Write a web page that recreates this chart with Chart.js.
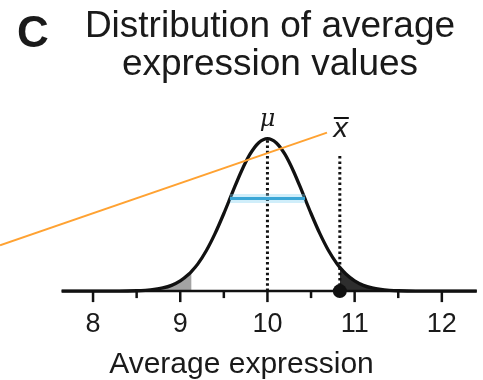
<!DOCTYPE html>
<html>
<head>
<meta charset="utf-8">
<script src="https://cdn.jsdelivr.net/npm/chart.js@4.4.1/dist/chart.umd.min.js"></script>
<style>
  body { margin: 0; background: #fff; }
  #wrap { width: 483px; height: 380px; }
</style>
</head>
<body>
<div id="wrap"><canvas id="dist-chart" width="483" height="380"></canvas></div>
<script>
// density curve of the sample mean, read at these points
const curveX = [7.64, 8.0, 8.3, 8.5, 8.6, 8.7, 8.8, 8.9, 9.0, 9.1, 9.13, 9.2, 9.3, 9.4, 9.5, 9.6, 9.7, 9.8, 9.9, 10.0,
                10.1, 10.2, 10.3, 10.4, 10.5, 10.6, 10.7, 10.8, 10.83, 10.9, 11.0, 11.1, 11.2, 11.3, 11.4, 11.5, 11.7, 12.0, 12.4];
const curveY = [0, 0, 0.000, 0.002, 0.005, 0.010, 0.019, 0.035, 0.062, 0.104, 0.120, 0.164, 0.247, 0.351, 0.472, 0.602, 0.728, 0.833, 0.903, 0.928,
                0.903, 0.833, 0.728, 0.602, 0.472, 0.351, 0.247, 0.164, 0.144, 0.104, 0.062, 0.035, 0.019, 0.010, 0.005, 0.002, 0.000, 0, 0];

const mu = 10;
const xbar = 10.83;
const lowerCut = 9.13;
const xbarLineTop = 0.83;
const spreadX = [9.57, 10.43];
const spreadY = 0.563;
const orangeX = [6.933, 10.683];
const orangeY = [0.279, 0.964];
const axisX = [7.64, 12.4];

const majorTicks = [8, 9, 10, 11, 12];
const minorTicks = [8.5, 9.5, 10.5, 11.5];

const xMin = 6.933, xMax = 12.472;
const yMin = 0, yMax = 1.771;

const pts = (xs, ys) => xs.map((x, i) => ({ x: x, y: ys[i] }));
const curve = pts(curveX, curveY);
const leftTail = curve.filter(p => p.x <= lowerCut);
const rightTail = curve.filter(p => p.x >= xbar);

const FONT = '"Liberation Sans", Arial, sans-serif';

// title, mu / x-bar labels and axis ticks
const decorations = {
    id: 'decorations',
    afterDatasetsDraw(chart) {
        const ctx = chart.ctx;
        const xs = chart.scales.x;
        const ys = chart.scales.y;
        const y0 = ys.getPixelForValue(0);
        ctx.save();
        ctx.fillStyle = '#1a1a1a';
        ctx.strokeStyle = '#111';
        ctx.lineWidth = 2.5;
        majorTicks.forEach(v => {
            const px = xs.getPixelForValue(v);
            ctx.beginPath(); ctx.moveTo(px, y0); ctx.lineTo(px, y0 + 11); ctx.stroke();
        });
        minorTicks.forEach(v => {
            const px = xs.getPixelForValue(v);
            ctx.beginPath(); ctx.moveTo(px, y0); ctx.lineTo(px, y0 + 7); ctx.stroke();
        });

        ctx.textBaseline = 'alphabetic';
        ctx.textAlign = 'left';
        ctx.font = 'bold 44px ' + FONT;
        ctx.fillText('C', 17, 47);
        ctx.textAlign = 'center';
        ctx.font = '37px ' + FONT;
        ctx.fillText('Distribution of average', 270, 37);
        ctx.fillText('expression values', 270, 75);

        ctx.font = 'italic 24px "DejaVu Serif", serif';
        ctx.fillText('\u03bc', xs.getPixelForValue(mu), 126);
        ctx.font = 'italic 26px "DejaVu Sans", sans-serif';
        const xb = xs.getPixelForValue(xbar) + 1;
        ctx.fillText('x', xb, 137);
        ctx.lineWidth = 2;
        ctx.beginPath(); ctx.moveTo(xb - 7, 118); ctx.lineTo(xb + 8, 118); ctx.stroke();
        ctx.restore();
    }
};

const ctx = document.getElementById('dist-chart').getContext('2d');
const distChart = new Chart(ctx, {
    type: 'line',
    data: {
        datasets: [
            { data: [{ x: xbar, y: 0 }], pointRadius: 7, pointBackgroundColor: '#111', pointBorderWidth: 0,
              showLine: false, order: 0 },
            { data: pts(orangeX, orangeY), borderColor: '#ffa232', borderWidth: 2, pointRadius: 0, order: 1 },
            { data: pts(spreadX, [spreadY, spreadY]), borderColor: '#3aa6d6', borderWidth: 3, pointRadius: 0, order: 2 },
            { data: pts(spreadX, [spreadY, spreadY]), borderColor: 'rgba(120,205,240,0.35)', borderWidth: 9, pointRadius: 0, order: 3 },
            { data: curve, borderColor: '#111', borderWidth: 3.3, pointRadius: 0, cubicInterpolationMode: 'monotone', order: 4 },
            { data: pts(axisX, [0, 0]), borderColor: '#111', borderWidth: 2.5, pointRadius: 0, order: 5 },
            { data: pts([mu, mu], [0, 0.928]), borderColor: '#111', borderWidth: 3, borderDash: [2.5, 2.8], pointRadius: 0, order: 6 },
            { data: pts([xbar, xbar], [0, xbarLineTop]), borderColor: '#111', borderWidth: 3, borderDash: [2.5, 2.8], pointRadius: 0, order: 6 },
            { data: leftTail, borderWidth: 0, backgroundColor: '#a3a3a3', fill: 'origin', pointRadius: 0,
              cubicInterpolationMode: 'monotone', order: 7 },
            { data: rightTail, borderWidth: 0, backgroundColor: '#2e2e2e', fill: 'origin', pointRadius: 0,
              cubicInterpolationMode: 'monotone', order: 7 }
        ]
    },
    options: {
        responsive: false,
        animation: false,
        clip: false,
        layout: { padding: 0, autoPadding: false },
        plugins: { legend: { display: false }, tooltip: { enabled: false } },
        scales: {
            x: {
                type: 'linear',
                min: xMin,
                max: xMax,
                afterBuildTicks: scale => { scale.ticks = majorTicks.map(v => ({ value: v })); },
                grid: { drawOnChartArea: false, drawTicks: true, tickLength: 11, tickColor: 'transparent' },
                border: { display: false },
                ticks: { padding: 6, color: '#1a1a1a', font: { family: FONT, size: 27 }, maxRotation: 0 },
                title: { display: true, text: 'Average expression', color: '#1a1a1a',
                         font: { family: FONT, size: 30, lineHeight: 1.05 }, padding: { top: 2, bottom: 0 } }
            },
            y: { display: false, min: yMin, max: yMax }
        }
    },
    plugins: [decorations]
});
</script>
</body>
</html>
